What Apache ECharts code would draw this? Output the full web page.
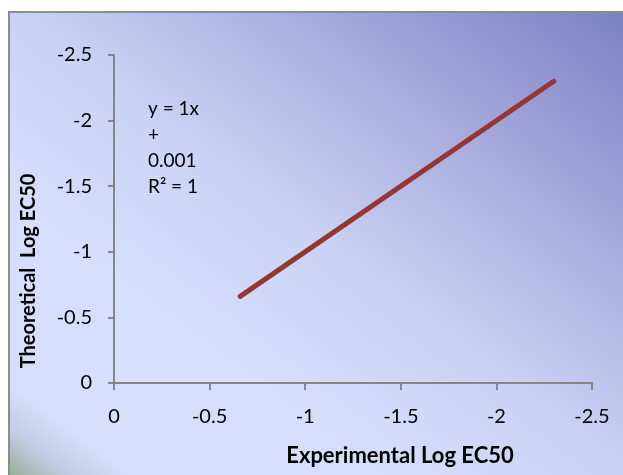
<!DOCTYPE html>
<html>
<head>
<meta charset="utf-8">
<script src="https://cdn.jsdelivr.net/npm/echarts@6/dist/echarts.min.js"></script>
<style>
  html, body { margin: 0; padding: 0; background: #fff; }
  #main { width: 623px; height: 475px; }
</style>
</head>
<body>
<div id="main"></div>
<script>
// trendline end points (experimental vs theoretical log EC50)
var experimental = [-0.66, -2.3];
var theoretical = [-0.66, -2.3];
var tickMin = -2.5;
var tickMax = 0;
var tickStep = 0.5;
var equationLines = ['y = 1x', '+', '0.001', 'R\u00b2 = 1'];

var labelFont = 'Lato, "Open Sans", sans-serif';

var myChart = echarts.init(document.getElementById('main'));

var points = experimental.map(function (x, i) { return [x, theoretical[i]]; });

var option = {
  animation: false,
  backgroundColor: '#fff',
  grid: { left: 114, right: 31, top: 55, bottom: 92, containLabel: false },
  graphic: [
    {
      type: 'rect',
      z: -10,
      silent: true,
      shape: { x: 9, y: 12, width: 640, height: 480 },
      style: {
        fill: new echarts.graphic.LinearGradient(9, 475, 454, -115, [
          { offset: 0, color: '#98ad98' },
          { offset: 0.05, color: '#c2cde4' },
          { offset: 0.1, color: '#d5dffa' },
          { offset: 0.3, color: '#d5defa' },
          { offset: 0.5, color: '#cbd3f4' },
          { offset: 0.75, color: '#a5aadc' },
          { offset: 1, color: '#7b82c2' }
        ], true),
        stroke: '#8c8c8c',
        lineWidth: 2
      }
    },
    {
      type: 'text',
      left: 148,
      top: 96,
      style: {
        text: equationLines.join('\n'),
        font: '19px ' + labelFont,
        fill: '#000',
        lineHeight: 26
      }
    },
    {
      type: 'text',
      x: 400,
      y: 456,
      style: {
        text: 'Experimental Log EC50',
        font: 'bold 22px ' + labelFont,
        fill: '#000',
        align: 'center',
        verticalAlign: 'middle'
      }
    },
    {
      type: 'text',
      x: 29,
      y: 271,
      rotation: Math.PI / 2,
      style: {
        text: 'Theoretical  Log EC50',
        font: 'bold 20px ' + labelFont,
        fill: '#000',
        align: 'center',
        verticalAlign: 'middle'
      }
    }
  ],
  xAxis: {
    type: 'value',
    inverse: true,
    min: tickMin,
    max: tickMax,
    interval: tickStep,
    axisLine: { show: true, onZero: false, lineStyle: { color: '#868686', width: 2 } },
    axisTick: { show: true, length: 7, lineStyle: { color: '#868686', width: 2 } },
    axisLabel: { margin: 24, color: '#000', fontSize: 20, fontFamily: labelFont },
    splitLine: { show: false }
  },
  yAxis: {
    type: 'value',
    inverse: true,
    min: tickMin,
    max: tickMax,
    interval: tickStep,
    axisLine: { show: true, onZero: false, lineStyle: { color: '#868686', width: 2 } },
    axisTick: { show: true, length: 6, lineStyle: { color: '#868686', width: 2 } },
    axisLabel: { margin: 22, color: '#000', fontSize: 20, fontFamily: labelFont },
    splitLine: { show: false }
  },
  series: [
    {
      type: 'line',
      data: points,
      showSymbol: false,
      symbol: 'none',
      lineStyle: { color: '#963634', width: 5, cap: 'round' }
    }
  ]
};

myChart.setOption(option);
</script>
</body>
</html>
